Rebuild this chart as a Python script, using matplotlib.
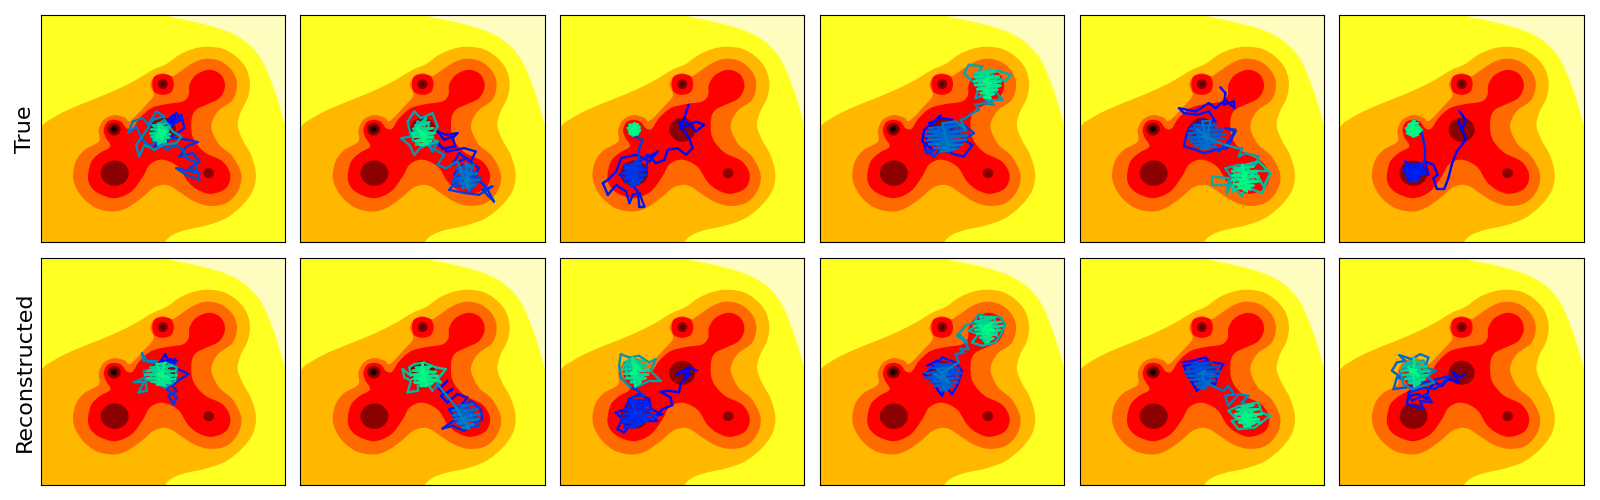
import numpy as np
import matplotlib
matplotlib.use("Agg")
import matplotlib.pyplot as plt
from matplotlib.collections import LineCollection
from matplotlib.patches import Ellipse, PathPatch
from matplotlib.path import Path

row_labels = ["True", "Reconstructed"]

# contour outlines of the background, panel corner at (32, 32)
pale_edge = [(415, 0), (415, 32), (480, 48), (560, 68), (620, 92), (665, 125), (700, 170), (730, 240), (750, 300),
             (767, 358), (800, 450), (850, 300), (850, -20), (600, -40)]
orange_edge = [(32, 368), (60, 345), (100, 322), (150, 300), (200, 280), (260, 255), (320, 225), (370, 195), (410, 178),
               (450, 150), (490, 133), (530, 126), (580, 132), (620, 155), (650, 190), (662, 235), (655, 280),
               (635, 320), (625, 362), (640, 405), (665, 450), (680, 505), (672, 555), (640, 600), (590, 640),
               (530, 662), (470, 675), (430, 690), (405, 715), (380, 780), (100, 820), (-60, 760), (-80, 500)]
redorange_edge = [(130, 505), (140, 465), (165, 435), (207, 410), (207, 375), (222, 345), (253, 331), (285, 338),
                  (302, 348), (345, 305), (372, 272), (362, 240), (375, 215), (400, 205), (428, 214), (445, 205),
                  (490, 175), (530, 162), (575, 170), (610, 200), (623, 240), (610, 285), (570, 315), (550, 345),
                  (547, 375), (570, 420), (610, 455), (636, 510), (625, 560), (590, 595), (540, 603), (495, 590),
                  (455, 565), (425, 545), (400, 540), (370, 550), (335, 580), (290, 610), (250, 620), (200, 610),
                  (160, 580), (135, 540)]
red_edge = [(175, 510), (185, 470), (210, 445), (242, 425), (228, 398), (222, 375), (232, 352), (253, 345), (275, 351),
            (290, 370), (308, 372), (330, 340), (365, 310), (410, 298), (460, 290), (478, 270), (480, 240), (500, 210),
            (540, 195), (575, 210), (587, 245), (570, 280), (530, 300), (500, 315), (487, 340), (487, 385), (500, 415),
            (530, 445), (580, 470), (603, 510), (590, 550), (545, 567), (505, 555), (475, 530), (450, 490), (420, 470),
            (390, 465), (360, 480), (340, 515), (305, 560), (255, 580), (205, 565), (180, 540)]
ring_edge = [(400, 208), (425, 215), (433, 238), (425, 262), (400, 270), (375, 262), (368, 238), (375, 215)]

well_x = [255, 538, 400, 253, 400, 400, 253, 253]
well_y = [505, 505, 238, 373, 375, 238, 373, 373]
well_w = [84, 32, 30, 40, 78, 14, 24, 12]
well_h = [76, 30, 30, 38, 72, 14, 22, 12]
well_colours = ["#8b0000", "#8b0000", "#8b0000", "#8b0000", "#8b0000", "#600000", "#4a0000", "#0a0000"]

# panel corners inside each crop
frame_x = [[35, 32, 31, 31, 31, 62], [35, 32, 32, 32, 32, 32]]
frame_y = [32, 38]

# each path has a first stretch (a) and a second stretch (b)
true_1_a = [(425, 345), (440, 350), (420, 355), (440, 335), (430, 365), (418, 345), (443, 325), (458, 345), (428, 360),
            (458, 330), (468, 370), (433, 395), (403, 420), (378, 425), (398, 400), (443, 400), (478, 405), (508, 412),
            (473, 425), (453, 455), (493, 445), (513, 470), (483, 490), (513, 505), (443, 490), (473, 510), (513, 525),
            (498, 470), (473, 460), (468, 440), (443, 420), (413, 435), (388, 405), (363, 425)]
true_1_b = [(338, 400), (323, 365), (298, 385), (313, 350), (343, 340), (358, 360), (383, 320), (408, 335), (373, 345),
            (348, 385), (323, 420), (331, 455), (348, 420), (378, 435), (403, 420), (443, 415), (458, 395), (433, 380),
            (408, 345), (378, 365), (393, 410), (368, 395), (413, 385), (388, 355), (423, 400), (378, 385), (408, 415),
            (423, 365), (373, 405), (403, 365), (388, 420), (418, 395), (372, 362), (410, 356), (385, 368), (420, 368),
            (368, 374), (418, 378), (365, 386), (425, 388), (370, 396), (420, 398), (378, 406), (412, 410), (388, 414),
            (405, 404), (380, 390), (410, 372), (390, 360), (400, 412), (398, 375), (383, 400), (408, 390), (393, 385),
            (403, 400), (388, 375), (413, 380), (398, 395)]
true_2_a = [(492, 398), (505, 385), (470, 390), (445, 380), (465, 405), (490, 395), (498, 425), (460, 432), (445, 415),
            (475, 440), (525, 430), (560, 440), (545, 470), (510, 445), (490, 480), (530, 460), (570, 490), (540, 530),
            (495, 510), (520, 480), (560, 520), (590, 545), (615, 590), (580, 555), (610, 545), (570, 570), (530, 565),
            (480, 555), (510, 520), (550, 505), (530, 540), (500, 545), (535, 490), (575, 520), (545, 555), (510, 495),
            (490, 530), (545, 520), (520, 510), (560, 540), (510, 530), (540, 500), (500, 490), (555, 480), (510, 505),
            (565, 505), (505, 520), (570, 525), (510, 535), (560, 540), (520, 550), (550, 490), (530, 475), (540, 555),
            (505, 470), (470, 490), (445, 480), (465, 450), (420, 425), (445, 410), (430, 440)]
true_2_b = [(410, 410), (375, 450), (360, 420), (335, 400), (365, 395), (355, 350), (375, 320), (395, 340), (430, 325),
            (445, 365), (425, 400), (445, 410), (400, 425), (370, 405), (385, 350), (420, 360), (390, 410), (430, 385),
            (375, 375), (410, 340), (400, 395), (380, 420), (420, 415), (395, 365), (370, 390), (415, 380), (378, 362),
            (420, 352), (372, 372), (432, 370), (368, 384), (438, 384), (372, 396), (432, 396), (380, 408), (425, 408),
            (392, 420), (412, 418), (390, 385), (405, 400), (385, 370), (410, 395), (395, 380)]
true_3_a = [(418, 300), (405, 340), (395, 370), (440, 350), (465, 360), (440, 380), (410, 350), (390, 355), (420, 400),
            (430, 430), (410, 450), (385, 430), (355, 435), (345, 465), (320, 475), (300, 455), (325, 440), (300, 470),
            (260, 450), (215, 460), (200, 500), (175, 525), (160, 535), (175, 570), (200, 540), (230, 560), (240, 595),
            (250, 570), (270, 565), (285, 605), (270, 605), (265, 560), (240, 530), (210, 510), (260, 480), (295, 450),
            (290, 510), (250, 540), (225, 490), (270, 470), (280, 520), (235, 510), (265, 500), (225, 530), (255, 470),
            (285, 490), (240, 480), (270, 530), (230, 500), (250, 490), (260, 520), (245, 505), (265, 490), (250, 525),
            (225, 480), (275, 475), (225, 492), (285, 495), (220, 505), (285, 510), (225, 520), (280, 525), (235, 535),
            (270, 535), (245, 545), (260, 480), (240, 495), (270, 460), (270, 430), (280, 405), (255, 395)]
true_3_b = [(245, 360), (270, 365), (250, 390), (235, 370), (265, 385), (255, 358), (240, 385), (272, 375), (240, 360),
            (265, 358), (238, 368), (270, 368), (238, 378), (270, 380), (242, 388), (265, 388), (250, 392), (255, 355),
            (248, 368), (262, 378), (252, 385), (245, 375), (260, 365)]
true_4_a = [(395, 332), (375, 350), (345, 375), (340, 410), (365, 430), (350, 395), (385, 370), (360, 355), (395, 340),
            (430, 345), (410, 370), (375, 410), (345, 420), (355, 445), (385, 430), (415, 440), (440, 450), (465, 455),
            (490, 420), (465, 405), (440, 430), (410, 425), (385, 400), (420, 385), (455, 395), (430, 365), (395, 385),
            (370, 440), (345, 435), (375, 455), (410, 415), (450, 410), (480, 395), (495, 385), (465, 360), (440, 380),
            (400, 405), (375, 380), (410, 360), (445, 355), (425, 400), (385, 420), (365, 395), (405, 390), (435, 410),
            (395, 415), (415, 375), (380, 395), (440, 395), (410, 405), (360, 370), (460, 360), (355, 382), (470, 378),
            (350, 394), (475, 392), (355, 406), (470, 405), (360, 418), (460, 420), (375, 430), (445, 432), (395, 440),
            (420, 440), (400, 355), (440, 350), (470, 375), (455, 345), (470, 340), (490, 325), (510, 315), (500, 300),
            (525, 295)]
true_4_b = [(555, 300), (530, 285), (580, 285), (560, 260), (500, 280), (510, 245), (480, 220), (465, 205), (480, 180),
            (520, 185), (500, 215), (540, 195), (575, 200), (605, 210), (590, 230), (550, 210), (520, 240), (495, 210),
            (530, 265), (570, 245), (545, 225), (510, 225), (525, 200), (560, 235), (535, 270), (515, 250), (550, 250),
            (530, 215), (565, 220), (540, 245), (520, 225), (555, 195), (500, 205), (560, 200), (495, 217), (570, 215),
            (495, 229), (575, 230), (498, 241), (575, 242), (505, 253), (565, 255), (515, 265), (555, 268), (525, 278),
            (545, 280), (530, 255), (545, 235), (525, 230), (540, 220)]
true_5_a = [(455, 248), (470, 265), (465, 300), (495, 290), (497, 310), (470, 285), (440, 310), (420, 295), (380, 320),
            (330, 310), (345, 325), (385, 330), (420, 320), (440, 350), (400, 345), (360, 370), (350, 400), (345, 425),
            (380, 435), (405, 445), (440, 435), (475, 430), (500, 380), (470, 370), (500, 375), (480, 410), (450, 440),
            (415, 410), (385, 390), (420, 360), (455, 385), (430, 415), (380, 420), (365, 385), (400, 370), (440, 395),
            (410, 430), (375, 400), (405, 385), (430, 375), (395, 415), (375, 360), (445, 360), (365, 372), (460, 375),
            (360, 385), (470, 388), (360, 398), (465, 400), (365, 410), (455, 412), (375, 422), (440, 425), (395, 432),
            (420, 432), (400, 350), (425, 348), (415, 395), (385, 375), (425, 400), (400, 395)]
true_5_b = [(470, 420), (505, 430), (520, 430), (510, 455), (530, 445), (570, 455), (560, 480), (510, 480), (470, 490),
            (490, 520), (475, 565), (480, 520), (430, 515), (430, 540), (490, 540), (520, 575), (530, 545), (580, 565),
            (605, 505), (585, 545), (560, 500), (600, 500), (570, 470), (530, 480), (495, 500), (520, 540), (555, 525),
            (490, 560), (500, 510), (540, 495), (575, 530), (510, 525), (545, 555), (525, 500), (555, 510), (495, 490),
            (555, 485), (490, 500), (565, 500), (490, 512), (570, 515), (490, 525), (565, 530), (498, 538), (555, 542),
            (510, 550), (540, 552), (520, 480), (535, 560), (505, 540), (540, 530), (520, 515), (535, 505), (515, 530)]
true_6_a = [(422, 318), (442, 345), (430, 375), (420, 350), (438, 390), (442, 405), (415, 440), (400, 480), (390, 520),
            (378, 552), (355, 552), (345, 520), (358, 510), (345, 480), (320, 470), (330, 510), (290, 490), (260, 470),
            (265, 500), (300, 475), (310, 510), (270, 525), (255, 490), (290, 515), (320, 490), (285, 480), (270, 510),
            (300, 500), (265, 480), (310, 478), (258, 490), (318, 495), (258, 502), (315, 508), (265, 515), (305, 520),
            (275, 530), (295, 530), (280, 495), (295, 505), (320, 465), (320, 430), (310, 385)]
true_6_b = [(290, 348), (270, 360), (310, 375), (285, 395), (265, 385), (290, 355), (305, 370), (275, 390), (262, 370),
            (295, 385), (272, 358), (298, 355), (268, 366), (302, 368), (268, 376), (304, 380), (272, 386), (298, 390),
            (285, 395), (285, 350), (280, 360), (300, 380), (270, 375), (290, 370), (280, 385)]

rec_1_a = [(440, 340), (420, 345), (410, 325), (395, 350), (425, 340), (440, 350), (420, 350), (445, 345), (430, 360),
           (470, 380), (480, 385), (455, 400), (430, 420), (445, 435), (420, 450), (435, 475), (445, 455), (415, 430),
           (440, 400), (400, 420), (385, 410), (420, 385)]
rec_1_b = [(375, 350), (345, 345), (340, 322), (355, 345), (385, 345), (375, 375), (345, 375), (350, 395), (315, 410),
           (345, 410), (330, 440), (355, 435), (350, 400), (380, 410), (410, 425), (440, 405), (445, 365), (410, 350),
           (375, 385), (400, 400), (425, 375), (385, 365), (365, 395), (410, 410), (430, 390), (395, 365), (370, 375),
           (415, 370), (365, 365), (430, 360), (355, 375), (440, 375), (350, 387), (445, 388), (355, 398), (440, 400),
           (370, 408), (425, 410), (385, 416), (410, 418), (385, 355), (410, 352), (390, 400), (405, 380), (385, 385),
           (420, 395), (395, 385), (405, 395)]
rec_2_a = [(475, 405), (450, 430), (470, 445), (490, 430), (455, 450), (475, 470), (505, 445), (535, 455), (515, 480),
           (480, 490), (500, 520), (460, 548), (490, 540), (525, 555), (550, 535), (580, 520), (575, 490), (545, 465),
           (510, 490), (495, 510), (530, 530), (560, 510), (530, 480), (500, 530), (540, 545), (570, 540), (545, 500),
           (515, 510), (550, 520), (525, 495), (510, 525), (535, 515), (500, 480), (550, 475), (490, 495), (565, 490),
           (490, 508), (572, 505), (495, 520), (570, 520), (505, 532), (555, 535), (520, 545), (540, 548), (490, 470),
           (465, 440), (445, 415)]
rec_2_b = [(430, 435), (415, 415), (385, 420), (385, 435), (355, 440), (365, 405), (345, 395), (340, 370), (365, 390),
           (360, 365), (375, 355), (405, 350), (440, 365), (470, 370), (445, 400), (420, 420), (375, 410), (395, 370),
           (430, 380), (455, 410), (410, 395), (385, 385), (420, 365), (400, 410), (375, 390), (425, 400), (380, 365),
           (425, 362), (370, 375), (440, 378), (365, 387), (445, 390), (370, 399), (440, 402), (378, 410), (428, 412),
           (395, 420), (412, 420), (400, 352), (395, 385), (415, 380), (390, 400), (410, 405), (400, 375)]
rec_3_a = [(445, 375), (420, 365), (385, 385), (420, 375), (405, 395), (425, 385), (395, 415), (390, 440), (360, 435),
           (335, 438), (365, 455), (370, 478), (340, 490), (320, 510), (340, 505), (305, 490), (300, 460), (270, 445),
           (240, 460), (230, 490), (200, 500), (220, 520), (205, 550), (225, 560), (250, 530), (285, 525), (325, 525),
           (300, 500), (265, 480), (235, 510), (215, 530), (270, 500), (300, 470), (255, 475), (225, 545), (245, 510),
           (280, 515), (255, 495), (235, 530), (270, 525), (240, 465), (295, 462), (232, 478), (305, 478), (225, 490),
           (312, 492), (222, 505), (310, 505), (218, 518), (300, 518), (220, 530), (280, 532), (225, 545), (255, 545),
           (320, 510), (240, 495), (295, 515), (260, 510), (250, 455), (285, 450), (260, 430)]
rec_3_b = [(245, 425), (215, 395), (210, 360), (215, 325), (240, 335), (270, 330), (300, 350), (320, 340), (305, 375),
           (335, 405), (300, 405), (270, 420), (235, 395), (225, 350), (265, 345), (290, 385), (255, 410), (240, 365),
           (280, 360), (260, 395), (230, 375), (235, 345), (280, 345), (225, 358), (295, 358), (222, 370), (300, 372),
           (225, 384), (298, 386), (230, 398), (290, 398), (245, 410), (275, 410), (258, 422), (250, 335), (275, 375),
           (250, 350), (265, 385), (245, 385), (262, 365), (255, 378)]
rec_4_a = [(355, 360), (385, 345), (365, 375), (345, 385), (375, 400), (385, 430), (400, 450), (410, 420), (430, 445),
           (445, 420), (460, 375), (440, 350), (400, 335), (375, 365), (420, 375), (405, 410), (350, 395), (385, 385),
           (440, 400), (415, 355), (380, 415), (430, 385), (395, 365), (365, 395), (415, 430), (440, 375), (375, 355),
           (435, 355), (360, 368), (450, 368), (350, 382), (458, 382), (352, 396), (452, 396), (365, 408), (445, 410),
           (380, 420), (430, 420), (395, 432), (415, 435), (395, 400), (425, 365), (385, 370), (410, 395), (375, 385),
           (420, 410), (400, 380), (450, 350), (440, 325), (465, 320), (455, 310), (480, 310), (470, 290)]
rec_4_b = [(450, 265), (475, 290), (445, 270), (470, 240), (495, 230), (510, 205), (540, 215), (575, 215), (590, 235),
           (575, 270), (560, 290), (520, 300), (490, 290), (510, 265), (480, 255), (525, 225), (560, 240), (540, 275),
           (510, 245), (555, 215), (570, 255), (525, 285), (505, 225), (545, 250), (530, 215), (565, 270), (515, 215),
           (560, 215), (500, 228), (578, 228), (495, 240), (582, 240), (500, 252), (575, 252), (505, 264), (565, 265),
           (515, 276), (555, 278), (530, 290), (540, 288), (520, 260), (550, 230), (535, 265), (515, 240), (545, 270),
           (530, 240), (555, 255), (525, 250), (540, 235)]
rec_5_a = [(340, 350), (370, 345), (410, 335), (420, 345), (345, 360), (365, 400), (385, 435), (410, 410), (440, 415),
           (445, 390), (465, 355), (435, 350), (395, 355), (365, 375), (420, 400), (440, 370), (380, 415), (400, 370),
           (430, 405), (375, 390), (415, 360), (395, 410), (420, 380), (385, 365), (405, 395), (370, 352), (430, 350),
           (355, 365), (450, 362), (348, 378), (455, 376), (355, 390), (448, 390), (365, 402), (440, 404), (380, 414),
           (425, 416), (390, 425), (410, 428), (435, 385), (390, 385), (410, 375), (400, 400), (430, 420), (465, 435),
           (480, 420), (497, 445), (470, 450), (480, 480), (510, 445), (540, 450), (520, 470)]
rec_5_b = [(550, 480), (510, 480), (480, 495), (505, 520), (490, 525), (510, 550), (560, 545), (605, 510), (580, 500),
           (570, 470), (540, 475), (520, 500), (555, 520), (530, 540), (500, 510), (545, 490), (575, 530), (520, 525),
           (550, 500), (530, 485), (510, 505), (560, 510), (520, 480), (555, 478), (505, 492), (570, 490), (500, 505),
           (580, 505), (505, 518), (572, 520), (512, 530), (558, 532), (528, 542), (545, 540), (535, 530), (520, 510),
           (545, 510), (530, 500), (540, 520)]
rec_6_a = [(410, 385), (395, 395), (375, 380), (390, 410), (360, 400), (340, 420), (320, 410), (300, 430), (295, 460),
           (270, 445), (240, 450), (235, 475), (255, 480), (285, 490), (275, 465), (310, 470), (295, 445), (250, 465),
           (240, 440), (285, 425), (320, 430), (345, 410), (365, 390)]
rec_6_b = [(230, 425), (195, 430), (205, 395), (225, 400), (190, 375), (205, 350), (230, 345), (212, 328), (250, 340),
           (275, 325), (300, 335), (290, 365), (322, 375), (295, 390), (318, 410), (285, 420), (250, 430), (225, 415),
           (215, 375), (250, 355), (285, 345), (305, 385), (265, 410), (235, 395), (270, 365), (245, 385), (285, 395),
           (225, 360), (260, 340), (240, 410), (280, 375), (235, 350), (285, 350), (222, 362), (295, 362), (218, 375),
           (302, 375), (222, 388), (298, 388), (230, 400), (290, 400), (245, 412), (275, 412), (258, 422), (258, 338),
           (255, 395), (240, 365), (270, 390), (250, 370), (262, 382), (245, 378), (265, 372)]

true_paths = [(true_1_a, true_1_b), (true_2_a, true_2_b), (true_3_a, true_3_b),
              (true_4_a, true_4_b), (true_5_a, true_5_b), (true_6_a, true_6_b)]
rec_paths = [(rec_1_a, rec_1_b), (rec_2_a, rec_2_b), (rec_3_a, rec_3_b),
             (rec_4_a, rec_4_b), (rec_5_a, rec_5_b), (rec_6_a, rec_6_b)]
# colour reached at the end of stretch a, and at the start of stretch b
true_colour_ends = [(0.40, 0.45), (0.55, 0.60), (0.25, 0.90), (0.55, 0.60), (0.50, 0.60), (0.15, 0.90)]
rec_colour_ends = [(0.30, 0.50), (0.55, 0.70), (0.20, 0.55), (0.55, 0.60), (0.55, 0.70), (0.15, 0.35)]


def smooth_outline(points):
    # closed catmull-rom outline written as bezier pieces
    p = np.array(points, dtype=float)
    verts = [p[0]]
    codes = [Path.MOVETO]
    n = len(p)
    for i in range(n):
        p0, p1, p2, p3 = p[i - 1], p[i], p[(i + 1) % n], p[(i + 2) % n]
        verts += [p1 + (p2 - p0) / 6, p2 - (p3 - p1) / 6, p2]
        codes += [Path.CURVE4] * 3
    return Path(np.array(verts), codes)


def draw_background(ax, dx, dy):
    ax.set_facecolor("#ffff22")
    outlines = [pale_edge, orange_edge, redorange_edge, ring_edge, red_edge]
    colours = ["#fffcc0", "#ffb700", "#ff6a00", "#ff0000", "#ff0000"]
    for outline, colour in zip(outlines, colours):
        path = smooth_outline(np.array(outline) + [dx, dy])
        ax.add_patch(PathPatch(path, facecolor=colour, edgecolor="none"))
    for x, y, w, h, c in zip(well_x, well_y, well_w, well_h, well_colours):
        ax.add_patch(Ellipse((x + dx, y + dy), w, h, facecolor=c, edgecolor="none"))


def draw_path(ax, part_a, part_b, ends):
    pts = np.array(part_a + part_b, dtype=float)
    shade = np.r_[np.linspace(0, ends[0], len(part_a)), np.linspace(ends[1], 1, len(part_b))]
    segs = np.stack([pts[:-1], pts[1:]], axis=1)
    lines = LineCollection(segs, cmap="winter", linewidths=1.7, capstyle="round", joinstyle="round")
    lines.set_array(shade[:-1])
    lines.set_clim(0, 1)
    ax.add_collection(lines)


fig = plt.figure(figsize=(16, 5), dpi=100)

lefts = [40.6, 300.3, 560.0, 819.8, 1079.6, 1339.4]
tops = [15.4, 258.4]
for row, paths in enumerate([true_paths, rec_paths]):
    ends = [true_colour_ends, rec_colour_ends][row]
    for col in range(6):
        ax = fig.add_axes([lefts[col] / 1600, 1 - (tops[row] + 226.8) / 500, 244.2 / 1600, 226.8 / 500])
        fx, fy = frame_x[row][col], frame_y[row]
        ax.set_xlim(fx, fx + 735)
        ax.set_ylim(fy + 680, fy)
        draw_background(ax, fx - 32, fy - 32)
        draw_path(ax, paths[col][0], paths[col][1], ends[col])
        ax.set_xticks([])
        ax.set_yticks([])
        if col == 0:
            ax.set_ylabel(row_labels[row], fontsize=16)

plt.savefig("out.png", dpi=100)
